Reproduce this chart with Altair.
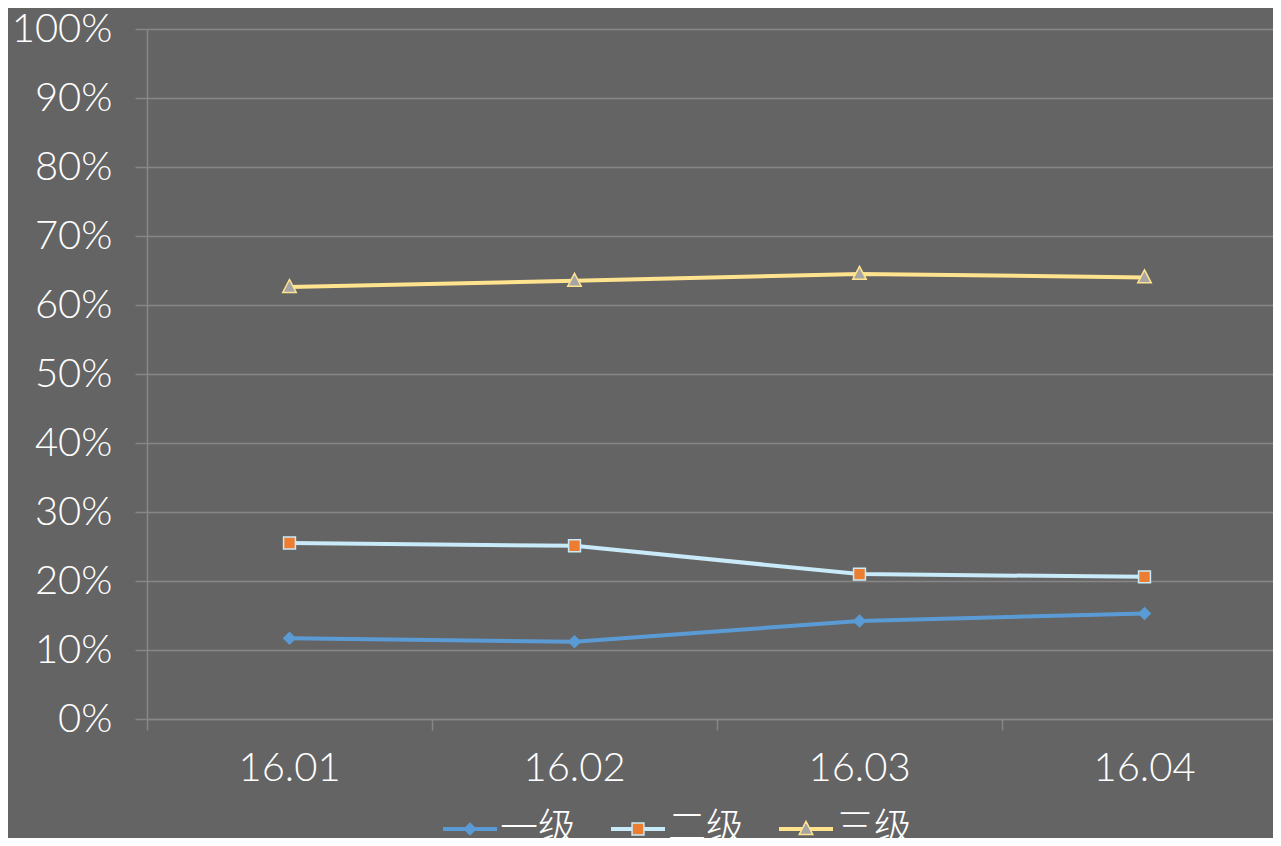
import altair as alt
import pandas as pd

months = ["16.01", "16.02", "16.03", "16.04"]
series_names = ["一级", "二级", "三级"]
s1 = [0.117, 0.112, 0.142, 0.153]
s2 = [0.255, 0.251, 0.210, 0.206]
s3 = [0.626, 0.635, 0.645, 0.640]
y_ticks = [0, 0.1, 0.2, 0.3, 0.4, 0.5, 0.6, 0.7, 0.8, 0.9, 1.0]

line_colors = ["#5B9BD5", "#C9EAF8", "#FFE38F"]
marker_fills = ["#5B9BD5", "#ED7D31", "#A5A5A5"]
# marker outlines in unit coordinates
marker_shapes = [
    "M0,-0.21L0.21,0L0,0.21L-0.21,0Z",
    "M-0.22,-0.22L0.22,-0.22L0.22,0.22L-0.22,0.22Z",
    "M0,-0.28L0.25,0.2L-0.25,0.2Z",
]
# half-gap of the legend line around each marker
marker_gaps = [0.2, 0.22, 0.15]

rows = []
for name, vals in zip(series_names, [s1, s2, s3]):
    for m, v in zip(months, vals):
        rows.append({"month": m, "series": name, "series_l": name, "series_p": name, "value": v})
df = pd.DataFrame(rows)


def legend_path(shape, gap):
    parts = []
    for off in ("-0.045", "0", "0.045"):
        parts.append(f"M-1,{off}L-{gap},{off}M{gap},{off}L1,{off}")
    return "".join(parts) + shape


def per_entry_expr(values):
    expr = f"'{values[-1]}'"
    for name, val in reversed(list(zip(series_names[:-1], values[:-1]))):
        expr = f"datum.value === '{name}' ? '{val}' : ({expr})"
    return expr


legend_shapes = [legend_path(s, g) for s, g in zip(marker_shapes, marker_gaps)]

FONT = "Lato, 'Noto Sans CJK SC', sans-serif"
GRID = "#878787"

x_enc = alt.X(
    "month:N",
    sort=months,
    bandPosition=0.5,
    scale=alt.Scale(type="band", paddingInner=0, paddingOuter=0),
    axis=alt.Axis(
        title=None, grid=False, bandPosition=0, labelAngle=0,
        tickSize=11, labelPadding=18, labelFontSize=40,
    ),
)
y_enc = alt.Y(
    "value:Q",
    scale=alt.Scale(domain=[0, 1], nice=False),
    axis=alt.Axis(
        title=None, values=y_ticks, format=".0%", tickSize=12, labelPadding=23,
        labelFontSize=40,
    ),
)

lines = alt.Chart(df).mark_line().encode(
    x=x_enc,
    y=y_enc,
    strokeWidth=alt.value(4),
    color=alt.Color("series_l:N", sort=series_names,
                    scale=alt.Scale(range=line_colors), legend=None),
)

points = alt.Chart(df).mark_point(filled=True, size=2916, strokeWidth=1.5, opacity=1).encode(
    x=x_enc,
    y=y_enc,
    fill=alt.Fill("series_p:N", sort=series_names,
                  scale=alt.Scale(range=marker_fills), legend=None),
    shape=alt.Shape("series_p:N", sort=series_names,
                    scale=alt.Scale(range=marker_shapes), legend=None),
    stroke=alt.Stroke(
        "series:N",
        scale=alt.Scale(domain=series_names, range=line_colors),
        legend=alt.Legend(
            title=None, orient="none", direction="horizontal",
            legendX=295, legendY=772, padding=0,
            symbolType={"expr": per_entry_expr(legend_shapes)},
            symbolFillColor={"expr": per_entry_expr(marker_fills)},
            symbolSize=2916, symbolStrokeWidth=1.5, symbolOpacity=1,
            labelColor="white", labelFont=FONT, labelFontSize=38,
            labelFontWeight=300, labelOffset=2, columnPadding=31,
        ),
    ),
)

chart = (
    alt.layer(lines, points)
    .properties(
        width=1140, height=690,
        autosize=alt.AutoSizeParams(type="none"),
        padding={"left": 139, "top": 21, "right": -14, "bottom": 119},
        background="#646464",
    )
    .configure_view(stroke=None)
    .configure_axis(
        domainColor=GRID, gridColor=GRID, tickColor=GRID, domainWidth=1.5,
        gridWidth=1.5, tickWidth=1.5, labelColor="white", labelFont=FONT,
        labelFontWeight=300,
    )
)

chart.save("out.html", embed_options={"renderer": "svg", "actions": False})
